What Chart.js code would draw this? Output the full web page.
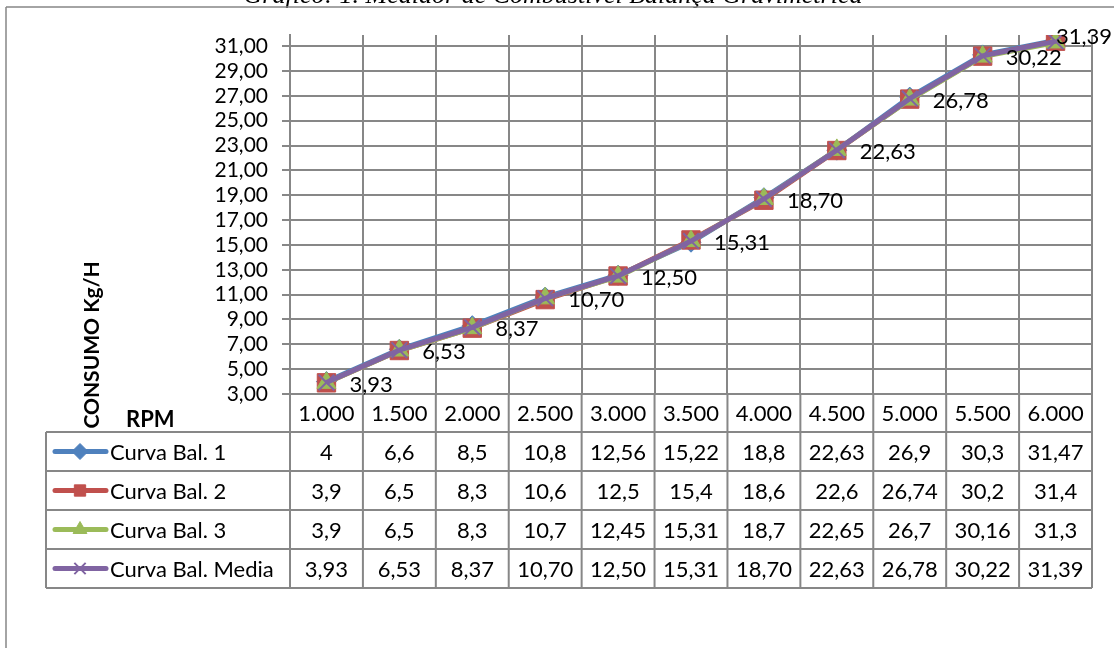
<!DOCTYPE html>
<html>
<head>
<meta charset="utf-8">
<script src="https://cdn.jsdelivr.net/npm/chart.js@4.4.1/dist/chart.umd.min.js"></script>
<style>
html, body { margin: 0; padding: 0; background: #fff; }
</style>
</head>
<body>
<canvas id="grafico" width="1114" height="648"></canvas>
<script>
const rpm = ['1.000', '1.500', '2.000', '2.500', '3.000', '3.500', '4.000', '4.500', '5.000', '5.500', '6.000'];
const bal1 = [4, 6.6, 8.5, 10.8, 12.56, 15.22, 18.8, 22.63, 26.9, 30.3, 31.47];
const bal2 = [3.9, 6.5, 8.3, 10.6, 12.5, 15.4, 18.6, 22.6, 26.74, 30.2, 31.4];
const bal3 = [3.9, 6.5, 8.3, 10.7, 12.45, 15.31, 18.7, 22.65, 26.7, 30.16, 31.3];
const balMedia = [3.93, 6.53, 8.37, 10.70, 12.50, 15.31, 18.70, 22.63, 26.78, 30.22, 31.39];
const yTicks = [3, 5, 7, 9, 11, 13, 15, 17, 19, 21, 23, 25, 27, 29, 31];
const nomes = ['Curva Bal. 1', 'Curva Bal. 2', 'Curva Bal. 3', 'Curva Bal. Media'];
const titulo = 'Gráfico: 1. Medidor de Combustível Balança Gravimétrica';
const tituloY = 'CONSUMO Kg/H';
const tituloX = 'RPM';

const cinza = '#878787';
const fonte = 'Lato';

function virgula(v, casas) {
    if (casas !== undefined) return v.toFixed(casas).replace('.', ',');
    return String(v).replace('.', ',');
}

function serie(nome, dados, cor, estilo, raio, ordem) {
    return {
        label: nome,
        data: dados,
        borderColor: cor,
        backgroundColor: cor,
        borderWidth: 5,
        pointStyle: estilo,
        pointRadius: raio,
        pointBorderColor: cor,
        pointBackgroundColor: cor,
        pointBorderWidth: estilo === 'crossRot' ? 2 : 1,
        tension: 0,
        order: ordem
    };
}

// tabela de dados + textos extras, desenhados com as escalas do grafico
const tabela = {
    id: 'tabela',
    beforeDraw(chart) {
        const ctx = chart.ctx;
        ctx.save();
        ctx.fillStyle = '#fff';
        ctx.fillRect(0, 0, chart.width, chart.height);
        // titulo cortado no topo
        ctx.fillStyle = '#000';
        ctx.font = 'italic 26px "Liberation Serif"';
        ctx.textAlign = 'center';
        ctx.textBaseline = 'alphabetic';
        ctx.fillText(titulo, 553, 3);
        // moldura
        ctx.strokeStyle = cinza;
        ctx.lineWidth = 1.5;
        ctx.beginPath();
        ctx.moveTo(6, 7);
        ctx.lineTo(chart.width, 7);
        ctx.moveTo(6, 7);
        ctx.lineTo(6, chart.height);
        ctx.stroke();
        ctx.restore();
    },
    afterDraw(chart) {
        const ctx = chart.ctx;
        const xs = chart.scales.x;
        const area = chart.chartArea;
        const passo = xs.getPixelForValue(1) - xs.getPixelForValue(0);
        const topo = area.bottom;
        const hCab = 38;
        const hLinha = 39;
        const fim = topo + hCab + 4 * hLinha;
        const esq = 46;

        ctx.save();
        ctx.strokeStyle = cinza;
        ctx.lineWidth = 2;
        ctx.beginPath();
        for (let k = 0; k <= 4; k++) {
            const y = topo + hCab + k * hLinha;
            ctx.moveTo(esq, y);
            ctx.lineTo(area.right, y);
        }
        for (let i = 0; i <= rpm.length; i++) {
            const x = xs.getPixelForValue(0) - passo / 2 + i * passo;
            ctx.moveTo(x, topo);
            ctx.lineTo(x, fim);
        }
        ctx.moveTo(esq, topo + hCab);
        ctx.lineTo(esq, fim);
        ctx.stroke();

        ctx.fillStyle = '#000';
        ctx.font = '22px ' + fonte;
        ctx.textAlign = 'center';
        ctx.textBaseline = 'middle';
        rpm.forEach((r, i) => ctx.fillText(r, xs.getPixelForValue(i), topo + hCab / 2 + 1));

        chart.data.datasets.forEach((ds, r) => {
            const yc = topo + hCab + r * hLinha + hLinha / 2;
            ctx.strokeStyle = ds.borderColor;
            ctx.lineWidth = 5;
            ctx.lineCap = 'round';
            ctx.beginPath();
            ctx.moveTo(55, yc);
            ctx.lineTo(106, yc);
            ctx.stroke();
            ctx.lineCap = 'butt';
            ctx.fillStyle = ds.backgroundColor;
            ctx.strokeStyle = ds.borderColor;
            ctx.lineWidth = ds.pointStyle === 'crossRot' ? 2 : 1;
            Chart.helpers.drawPoint(ctx, {
                pointStyle: ds.pointStyle,
                radius: 8,
                rotation: 0,
                borderWidth: ctx.lineWidth
            }, 80, yc);
            ctx.fillStyle = '#000';
            ctx.textAlign = 'left';
            ctx.fillText(ds.label, 110, yc + 1);
            ctx.textAlign = 'center';
            ds.data.forEach((v, i) => {
                const txt = r === 3 ? virgula(v, 2) : virgula(v);
                ctx.fillText(txt, xs.getPixelForValue(i), yc + 1);
            });
        });

        // rotulos de dados da media
        const meta = chart.getDatasetMeta(3);
        ctx.textAlign = 'left';
        meta.data.forEach((p, i) => {
            const txt = virgula(balMedia[i], 2);
            const w = ctx.measureText(txt).width;
            let x = p.x + 23;
            let y = p.y + 2;
            if (x + w > 1112) { x = 1112 - w; y = p.y - 4; }
            ctx.fillText(txt, x, y);
        });

        // titulos dos eixos
        ctx.font = 'bold 21px ' + fonte;
        ctx.save();
        ctx.translate(92, 345);
        ctx.rotate(-Math.PI / 2);
        ctx.textAlign = 'center';
        ctx.fillText(tituloY, 0, 0);
        ctx.restore();
        ctx.font = 'bold 22px ' + fonte;
        ctx.textAlign = 'left';
        ctx.fillText(tituloX, 126, 420);
        ctx.restore();
    }
};

const ctx = document.getElementById('grafico').getContext('2d');
const grafico = new Chart(ctx, {
    type: 'line',
    data: {
        labels: rpm,
        datasets: [
            serie(nomes[0], bal1, '#4F81BD', 'rectRot', 10, 4),
            serie(nomes[1], bal2, '#C0504D', 'rect', 13, 3),
            serie(nomes[2], bal3, '#9BBB59', 'triangle', 11, 2),
            serie(nomes[3], balMedia, '#8064A2', 'crossRot', 11, 1)
        ]
    },
    options: {
        responsive: false,
        animation: false,
        layout: { padding: { left: 0, right: 22, top: 35, bottom: 254 } },
        plugins: {
            legend: { display: false },
            tooltip: { enabled: false }
        },
        scales: {
            x: {
                offset: true,
                grid: { offset: true, color: cinza, lineWidth: 2, drawTicks: false },
                border: { display: false },
                ticks: { display: false },
                afterFit: s => { s.height = 0; }
            },
            y: {
                min: 3,
                max: 31.9,
                afterBuildTicks: s => { s.ticks = yTicks.map(v => ({ value: v })); },
                grid: { color: cinza, lineWidth: 2, tickLength: 8 },
                border: { color: cinza, width: 2 },
                ticks: {
                    autoSkip: false,
                    padding: 14,
                    color: '#000',
                    font: { family: fonte, size: 21 },
                    callback: v => virgula(v, 2)
                },
                afterFit: s => { s.width = 290; }
            }
        }
    },
    plugins: [tabela]
});
</script>
</body>
</html>
